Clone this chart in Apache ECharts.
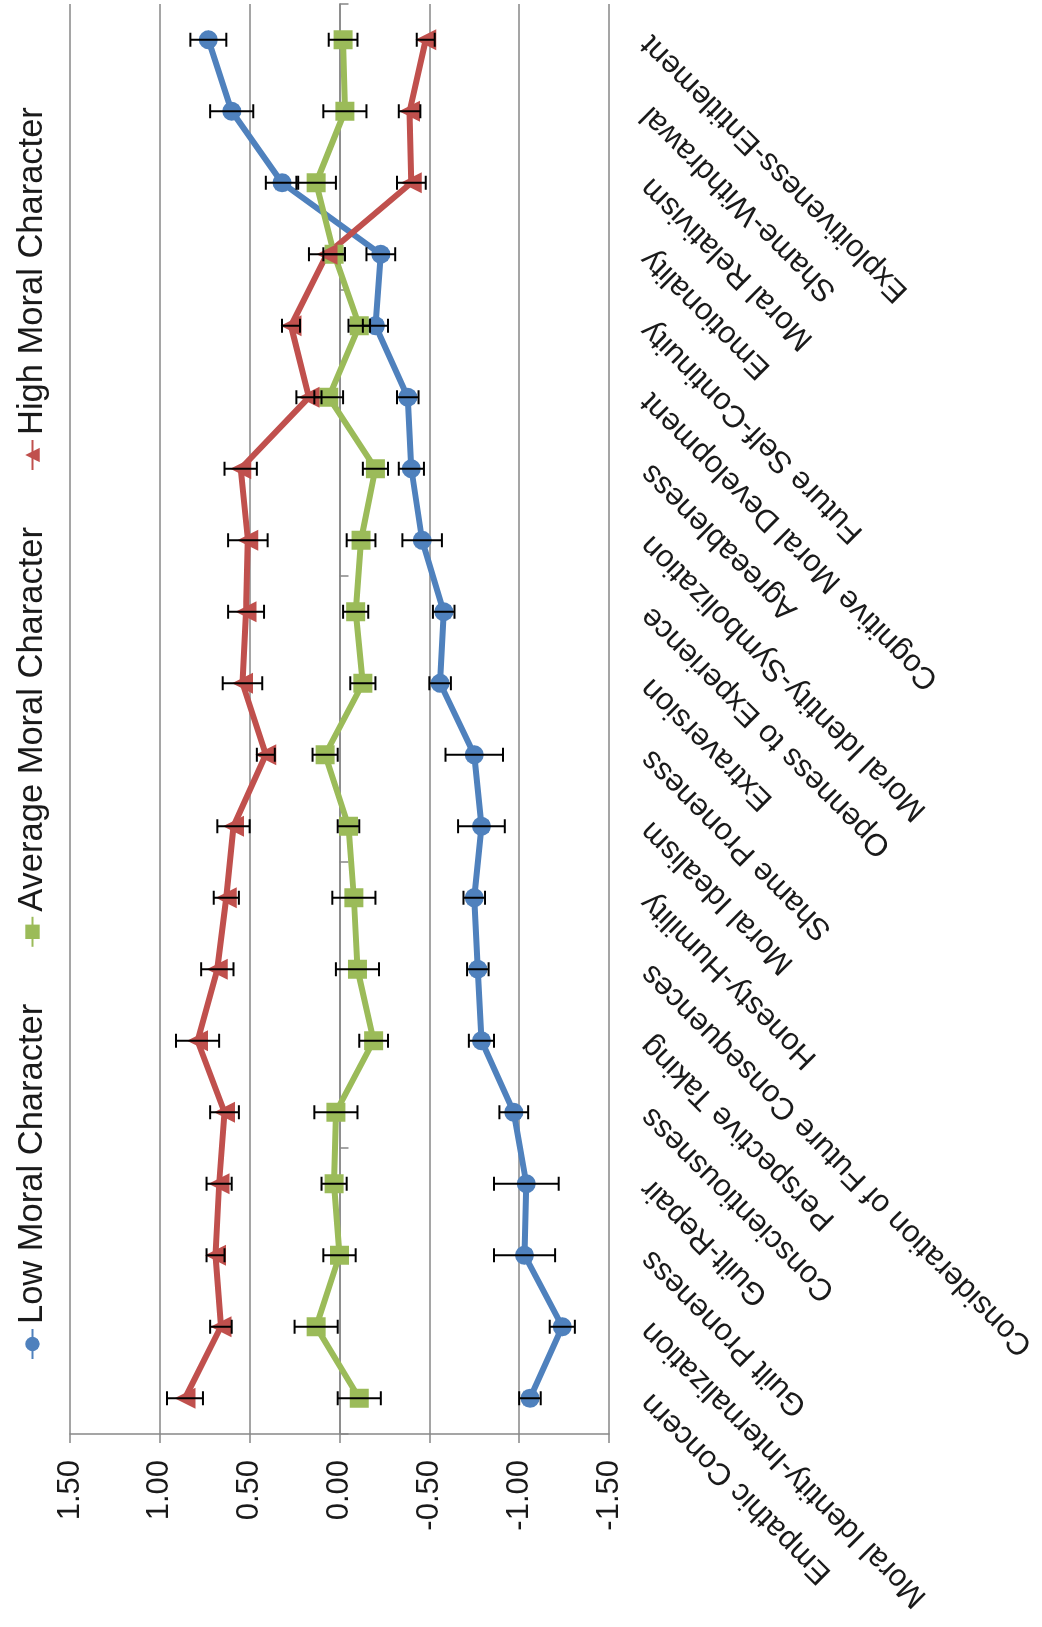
<!DOCTYPE html>
<html>
<head>
<meta charset="utf-8">
<script src="https://cdn.jsdelivr.net/npm/echarts@6/dist/echarts.min.js"></script>
<style>
html, body { margin: 0; padding: 0; width: 1042px; height: 1627px; overflow: hidden; background: #ffffff; }
#chart { position: absolute; left: 0; top: 0; width: 1627px; height: 1042px;
  transform-origin: 0 0; transform: translateY(1627px) rotate(-90deg); }
</style>
</head>
<body>
<div id="chart"></div>
<script>
// ---- data ----
const categories = [
  "Empathic Concern", "Moral Identity-Internalization", "Guilt Proneness", "Guilt-Repair",
  "Conscientiousness", "Perspective Taking", "Consideration of Future Consequences",
  "Honesty-Humility", "Moral Idealism", "Shame Proneness", "Extraversion",
  "Openness to Experience", "Moral Identity-Symbolization", "Agreeableness",
  "Cognitive Moral Development", "Future Self-Continuity", "Emotionality",
  "Moral Relativism", "Shame-Withdrawal", "Exploitiveness-Entitlement"
];
const seriesNames = ["Low Moral Character", "Average Moral Character", "High Moral Character"];
const lowMoral    = [-1.06, -1.24, -1.03, -1.04, -0.97, -0.79, -0.77, -0.75, -0.79, -0.75, -0.56, -0.58, -0.46, -0.40, -0.38, -0.20, -0.23, 0.32, 0.60, 0.73];
const lowMoralErr = [0.06, 0.07, 0.17, 0.18, 0.08, 0.07, 0.06, 0.06, 0.13, 0.16, 0.06, 0.06, 0.11, 0.07, 0.06, 0.07, 0.08, 0.09, 0.12, 0.10];
const avgMoral    = [-0.11, 0.13, 0.00, 0.03, 0.02, -0.19, -0.10, -0.08, -0.05, 0.08, -0.13, -0.09, -0.12, -0.20, 0.06, -0.11, 0.03, 0.13, -0.03, -0.02];
const avgMoralErr = [0.12, 0.12, 0.09, 0.07, 0.12, 0.08, 0.12, 0.12, 0.06, 0.07, 0.07, 0.07, 0.08, 0.07, 0.08, 0.06, 0.06, 0.11, 0.12, 0.08];
const highMoral    = [0.86, 0.66, 0.69, 0.67, 0.64, 0.79, 0.68, 0.63, 0.59, 0.41, 0.54, 0.52, 0.51, 0.55, 0.17, 0.27, 0.07, -0.40, -0.39, -0.48];
const highMoralErr = [0.10, 0.06, 0.05, 0.07, 0.08, 0.12, 0.09, 0.07, 0.09, 0.05, 0.11, 0.10, 0.11, 0.09, 0.07, 0.05, 0.10, 0.08, 0.06, 0.05];
const valueMin = -1.5, valueMax = 1.5, valueStep = 0.5;

// ---- chart ----
const FONT = "'Liberation Sans', Arial, sans-serif";
const GRID = '#878787';
const colors = ['#4F81BD', '#9BBB59', '#C0504D'];
const symbols = ['circle', 'rect', 'triangle'];
const symbolSizes = [19, 19, 21];

function errorBars(name, values, errs) {
  return {
    type: 'custom',
    name: name + ' error',
    xAxisIndex: 0, yAxisIndex: 0,
    z: 6, silent: true,
    data: values.map((v, i) => [i, v - errs[i], v + errs[i]]),
    encode: { x: 0, y: [1, 2] },
    renderItem(params, api) {
      const lo = api.coord([api.value(0), api.value(1)]);
      const hi = api.coord([api.value(0), api.value(2)]);
      const hw = 7;
      const style = { stroke: '#000', lineWidth: 2, fill: null };
      return { type: 'group', children: [
        { type: 'line', shape: { x1: lo[0], y1: lo[1], x2: hi[0], y2: hi[1] }, style },
        { type: 'line', shape: { x1: lo[0] - hw, y1: lo[1], x2: lo[0] + hw, y2: lo[1] }, style },
        { type: 'line', shape: { x1: hi[0] - hw, y1: hi[1], x2: hi[0] + hw, y2: hi[1] }, style }
      ]};
    }
  };
}

const lineData = [lowMoral, avgMoral, highMoral];
const errData = [lowMoralErr, avgMoralErr, highMoralErr];

const series = [];
seriesNames.forEach((n, k) => {
  series.push({
    name: n, type: 'line', data: lineData[k],
    symbol: symbols[k], symbolSize: symbolSizes[k],
    lineStyle: { width: 6, color: colors[k] },
    itemStyle: { color: colors[k] },
    z: 3, animation: false
  });
});
seriesNames.forEach((n, k) => series.push(errorBars(n, lineData[k], errData[k])));

const chart = echarts.init(document.getElementById('chart'), null, { renderer: 'canvas' });
chart.setOption({
  animation: false,
  backgroundColor: '#ffffff',
  textStyle: { fontFamily: FONT },
  legend: {
    data: seriesNames,
    left: 262, top: 10,
    itemWidth: 30, itemHeight: 18, itemGap: 56,
    textStyle: { fontSize: 34.5, color: '#1a1a1a', fontFamily: FONT }
  },
  grid: { left: 193, right: 4, top: 70, bottom: 433 },
  xAxis: [
    {
      type: 'category', data: categories, boundaryGap: true,
      axisLine: { show: false, onZero: false },
      axisTick: { show: false },
      splitLine: { show: false },
      axisLabel: { interval: 0, rotate: 45, fontSize: 31, color: '#1a1a1a', margin: 37, fontFamily: FONT }
    },
    {
      type: 'category', data: categories, boundaryGap: true, position: 'bottom',
      axisLine: { show: true, onZero: true, lineStyle: { color: GRID, width: 1.5 } },
      axisTick: { show: true, length: 9, lineStyle: { color: GRID, width: 1.5 } },
      axisLabel: { show: false },
      splitLine: { show: false }
    }
  ],
  yAxis: {
    type: 'value', min: valueMin, max: valueMax, interval: valueStep,
    axisLine: { show: true, lineStyle: { color: GRID, width: 1.5 } },
    axisTick: { show: true, length: 9, lineStyle: { color: GRID, width: 1.5 } },
    splitLine: { show: true, lineStyle: { color: GRID, width: 1.5 } },
    axisLabel: { formatter: v => v.toFixed(2), fontSize: 31, margin: 26, color: '#1a1a1a', fontFamily: FONT }
  },
  series
});
</script>
</body>
</html>
